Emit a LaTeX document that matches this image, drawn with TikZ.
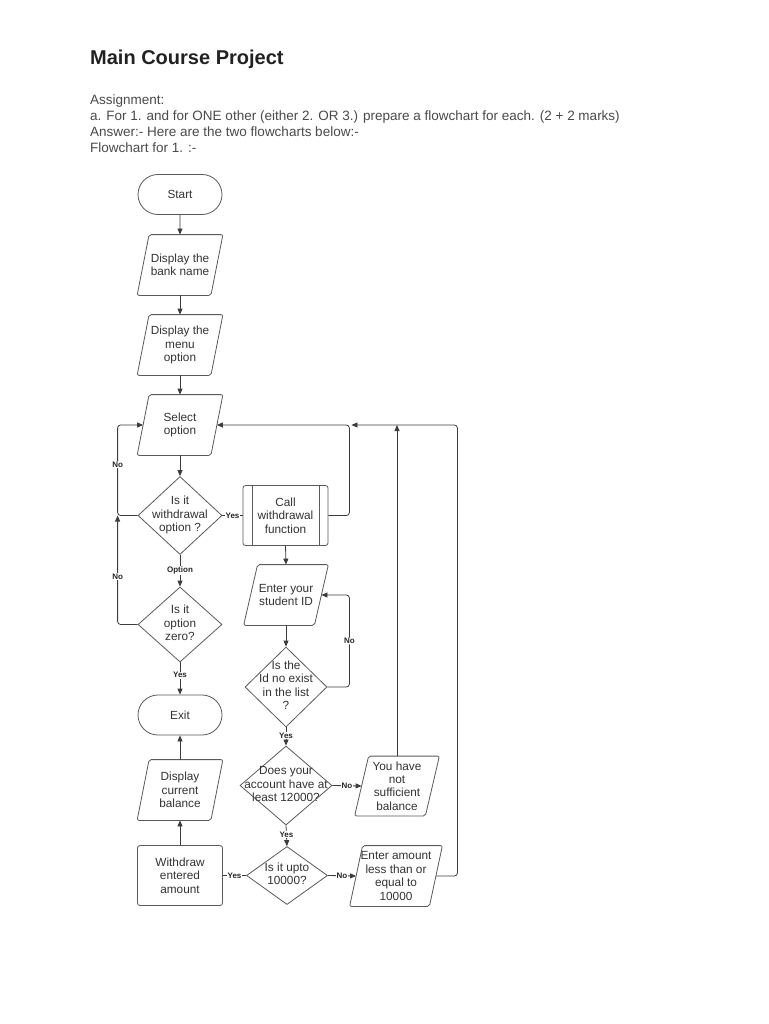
\documentclass[tikz,border=0pt]{standalone}
\usepackage{fontspec}
\setmainfont{Liberation Sans}
\usetikzlibrary{shapes.geometric,shapes.misc,arrows.meta}
\definecolor{shapec}{HTML}{5A5A5A}
\definecolor{linec}{HTML}{3C3C3C}
\definecolor{txtc}{HTML}{333333}
\definecolor{hdrc}{HTML}{4A4A4A}
\definecolor{titlec}{HTML}{222222}
\newcommand\zwtext[1]{\makebox[0pt]{\begin{tabular}{@{}c@{}}#1\end{tabular}}}
\begin{document}
\begin{tikzpicture}[x=1pt,y=-1pt,
  base/.style={draw=shapec, line width=0.8pt, font=\fontsize{11.8}{13.4}\selectfont, text=txtc, align=center, inner sep=1pt},
  term/.style={base, rounded rectangle, minimum width=86, minimum height=40},
  io/.style={base, draw=none, rectangle, minimum width=85, minimum height=60, inner sep=0pt},
  pshape/.style={draw=shapec, line width=0.8pt, rounded corners=2},
  dec/.style={base, diamond, inner sep=0pt, aspect=1},
  proc/.style={base, rectangle, rounded corners=2.5, minimum width=85, minimum height=60},
  arr/.style={draw=linec, line width=0.8pt, -{Triangle[length=6pt,width=5pt]}},
  conn/.style={draw=linec, line width=0.8pt},
  lbl/.style={font=\bfseries\fontsize{8}{9}\selectfont, fill=white, inner sep=0.6pt, text=black!85},
  hdr/.style={anchor=base west, font=\fontsize{13.5}{16}\selectfont, text=hdrc, inner sep=0pt}
]
\useasboundingbox (0,0) rectangle (768,1024);
\fill[white] (0,0) rectangle (768,1024);

% header
\node[anchor=base west, font=\bfseries\fontsize{20}{24}\selectfont, text=titlec, inner sep=0pt] (title) at (90,65) {Main Course Project};
\node[hdr] (h1) at (90,105) {Assignment:};
\node[hdr] (h2) at (90,121) {a. For 1. and for ONE other (either 2. OR 3.) prepare a flowchart for each. (2 + 2 marks)};
\node[hdr] (h3) at (90,137) {Answer:- Here are the two flowcharts below:-};
\node[hdr] (h4) at (90,153) {Flowchart for 1. :-};

% left column
\node[term] (start) at (180,194.5) {Start};
\node[io] (bank) at (180,265) {Display the\\bank name};
\node[io] (menu) at (180,345) {Display the\\menu\\option};
\node[io] (sel) at (180,425) {Select\\option};
\node[dec, minimum width=84, minimum height=78] (d1) at (180,515.5) {\zwtext{Is it\\withdrawal\\option ?}};
\node[dec, minimum width=84, minimum height=75] (d2) at (180,624.5) {\zwtext{Is it\\option\\zero?}};
\node[term] (exit) at (180,715) {Exit};
\node[io] (disp) at (180,790) {Display\\current\\balance};
\node[proc] (wd) at (180,875.5) {Withdraw\\entered\\amount};

% middle column
\node[proc] (call) at (285.5,515.5) {Call\\withdrawal\\function};
\draw[draw=shapec, line width=0.8pt] ([xshift=9.5]call.north west) -- ([xshift=9.5]call.south west);
\draw[draw=shapec, line width=0.8pt] ([xshift=-9]call.north east) -- ([xshift=-9]call.south east);
\node[io, minimum width=84] (sid) at (286,595) {Enter your\\student ID};
\node[dec, minimum width=82, minimum height=80] (d3) at (286,687) {\zwtext{Is the\\Id no exist\\in the list\\?}};
\node[dec, minimum width=92, minimum height=79] (d4) at (286,785.5) {\zwtext{Does your\\account have at\\least 12000?}};
\node[dec, minimum width=81, minimum height=58] (d5) at (287,875.5) {\zwtext{Is it upto\\10000?}};

% right column
\node[io, minimum width=84, minimum height=59] (nsb) at (397,786) {You have\\not\\sufficient\\balance};
\node[io, minimum width=92, minimum height=60] (ea) at (396,876) {Enter amount\\less than or\\equal to\\10000};

% parallelogram outlines
\foreach \n/\s in {bank/12, menu/12, sel/12, disp/12, sid/14, nsb/14, ea/13}
  \draw[pshape] ([xshift=\s]\n.north west) -- (\n.north east) -- ([xshift=-\s]\n.south east) -- (\n.south west) -- cycle;

% connectors
\draw[arr] (start) -- (bank);
\draw[arr] (bank) -- (menu);
\draw[arr] (menu) -- (sel);
\draw[arr] (sel) -- (d1);
\draw[conn] (d1.east) -- node[lbl]{Yes} (call.west);
\draw[arr, rounded corners=3] (d1.west) -- ++(-20,0) |- node[lbl, pos=0.28]{No} ([xshift=6]sel.west);
\draw[arr, rounded corners=3] (d2.west) -| node[lbl, pos=0.72]{No} ([xshift=-20]d1.west);
\draw[arr] (d1.south) -- node[lbl]{Option} (d2.north);
\draw[arr] (d2.south) -- node[lbl, pos=0.4]{Yes} (exit.north);
\coordinate (jn) at ([xshift=21]call.east |- sel.east);
\draw[arr, rounded corners=3] (call.east) -- ++(21,0) |- ([xshift=-6]sel.east);
\draw[arr] (call.south) -- (sid.north);
\draw[arr] (sid.south) -- (d3.north);
\draw[arr, rounded corners=3] (d3.east) -- ++(22,0) |- node[lbl, pos=0.25]{No} ([xshift=-7]sid.east);
\draw[arr] (d3.south) -- node[lbl, pos=0.45]{Yes} (d4.north);
\draw[arr] (d4.east) -- node[lbl]{No} ([xshift=7]nsb.west);
\draw[arr] (d4.south) -- node[lbl, pos=0.45]{Yes} (d5.north);
\draw[conn] (d5.west) -- node[lbl]{Yes} (wd.east);
\draw[arr] (d5.east) -- node[lbl]{No} ([xshift=6.5]ea.west);
\draw[arr] (wd.north) -- (disp.south);
\draw[arr] (disp.north) -- (exit.south);
\draw[arr] (nsb.north) -- (nsb.north |- sel.east);
\draw[arr, rounded corners=3] ([xshift=-6.5]ea.east) -- ++(21.5,0) |- ([xshift=2]jn);
\end{tikzpicture}
\end{document}
